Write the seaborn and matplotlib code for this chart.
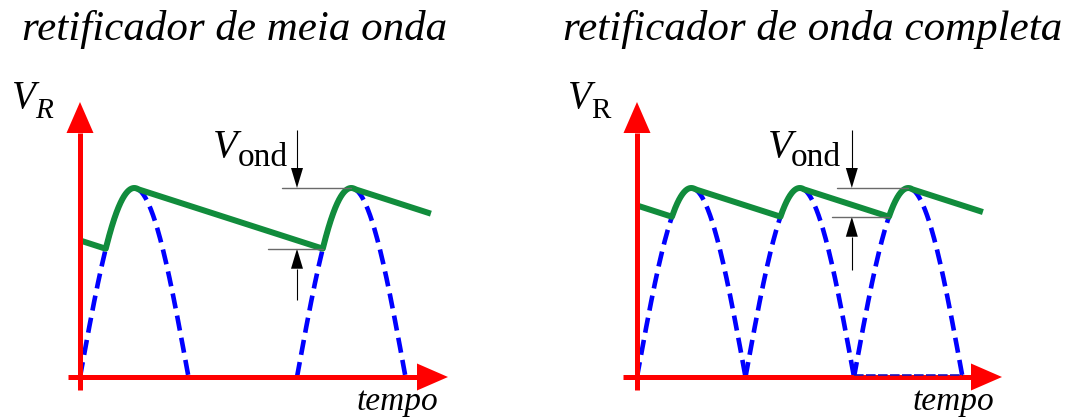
import numpy as np
import pandas as pd
import matplotlib
matplotlib.use("Agg")
import matplotlib.pyplot as plt
from matplotlib.transforms import offset_copy
import seaborn as sns

sns.set_theme(style="white")
plt.rcParams["font.family"] = ["Liberation Serif", "DejaVu Serif"]

# ---- content -------------------------------------------------------------
TITLES = ["retificador de meia onda", "retificador de onda completa"]
Y_LABEL = "V"
Y_SUBSCRIPTS = ["R", "R"]
Y_SUB_ITALIC = [True, False]
X_LABEL = "tempo"
RIPPLE_LABEL = "V"
RIPPLE_SUB = "ond"

# ---- signal description (time in input periods, voltage in peaks) ---------
AMPLITUDE = 1.0
ARCH_WIDTH = 0.5                       # each conducting half cycle
HALF_WAVE_STARTS = [0.0, 1.0]          # half-wave: one arch per period
FULL_WAVE_STARTS = [0.0, 0.5, 1.0]     # full-wave: one arch per half period
DECAY_RATE = 0.37                      # capacitor droop per period
TRACE_END = [1.617, 1.594]             # where the filtered trace stops
ZERO_STRETCH = [None, (1.0, 1.5)]      # dashed zero level shown on the axis
RIPPLE_MARK_T = [1.0, 0.99]            # time of the ripple dimension arrows

# ---- colours -------------------------------------------------------------
RED = "#ff0000"
BLUE = "#0000ff"
GREEN = "#118c3c"

W, H = 1068, 417
fig = plt.figure(figsize=(W / 100, H / 100), dpi=100)

PX_T, PX_V = 217.0, 189.0              # pixels per period / per peak
AXIS_Y = 377                           # pixel row of the time axis
PANELS = [dict(x0=0, ox=80, xa=68, xtip=448),
          dict(x0=534, ox=637, xa=623, xtip=1002)]
PANEL_W, PANEL_TOP = 534, 60


def source(t, starts):
    v = np.zeros_like(t)
    for s in starts:
        m = (t >= s) & (t <= s + ARCH_WIDTH)
        v[m] = AMPLITUDE * np.sin(np.pi * (t[m] - s) / ARCH_WIDTH)
    return v


def filtered(t, starts):
    peaks = [s + ARCH_WIDTH / 2 for s in starts]
    spacing = peaks[1] - peaks[0]
    all_peaks = np.array([peaks[0] - spacing] + peaks)
    idx = np.searchsorted(all_peaks, t, side="right") - 1
    hold = AMPLITUDE - DECAY_RATE * (t - all_peaks[idx])
    return np.maximum(source(t, starts), hold), peaks


def arrow(ax, start, tip, color, lw_px, head_len, head_w, z):
    p0 = ax.transData.transform(start)
    p1 = ax.transData.transform(tip)
    d = (p1 - p0) / np.linalg.norm(p1 - p0)
    n = np.array([-d[1], d[0]])
    base = p1 - d * head_len
    tri = np.array([p1, base + n * head_w / 2, base - n * head_w / 2])
    inv = ax.transData.inverted()
    tri_d = inv.transform(tri)
    base_d = inv.transform(base)
    ax.plot([start[0], base_d[0]], [start[1], base_d[1]], color=color,
            lw=lw_px * 0.72, solid_capstyle="butt", zorder=z)
    ax.fill(tri_d[:, 0], tri_d[:, 1], color=color, lw=0, zorder=z)


def ftext(xp, yp, s, size, italic, ha="left"):
    fig.text(xp / W, 1 - yp / H, s, fontsize=size,
             fontstyle="italic" if italic else "normal",
             ha=ha, va="baseline", color="black")


for k, (panel, starts) in enumerate(zip(PANELS, [HALF_WAVE_STARTS, FULL_WAVE_STARTS])):
    ax = fig.add_axes([panel["x0"] / W, 0, PANEL_W / W, (H - PANEL_TOP) / H])
    ox = panel["ox"] - panel["x0"]
    below = H - AXIS_Y
    ax.set_xlim(-ox / PX_T, (PANEL_W - ox) / PX_T)
    ax.set_ylim(-below / PX_V, (H - PANEL_TOP - below) / PX_V)
    ax.set_axis_off()

    # dashed source arches
    rows = []
    for i, s in enumerate(starts):
        t = np.linspace(s, s + ARCH_WIDTH, 200)
        rows.append(pd.DataFrame({"t": t, "v": source(t, [s]), "arch": i}))
    arches = pd.concat(rows, ignore_index=True)
    sns.lineplot(data=arches, x="t", y="v", units="arch", estimator=None,
                 sort=False, ax=ax, color=BLUE, lw=4.6 * 0.72,
                 linestyle=(0, (3.3, 1.6)), zorder=2)

    if ZERO_STRETCH[k] is not None:
        a, b = ZERO_STRETCH[k]
        zero = pd.DataFrame({"t": [a, b], "v": [0.0, 0.0]})
        sns.lineplot(data=zero, x="t", y="v", sort=False, estimator=None, ax=ax,
                     color="#1010c0", lw=1.6 * 0.72, linestyle=(0, (6, 1.5)),
                     zorder=6,
                     transform=offset_copy(ax.transData, fig=fig, y=2.5, units="dots"))

    # filtered output
    t = np.linspace(0.0, TRACE_END[k], 3000)
    v, peaks = filtered(t, starts)
    sns.lineplot(x=t, y=v, sort=False, estimator=None, ax=ax, color=GREEN,
                 lw=6 * 0.72, solid_capstyle="butt", zorder=3)

    # axes arrows
    arrow(ax, (0, -13 / PX_V), (0, 275 / PX_V), RED, 5, 31, 27, 5)
    x_start = (panel["xa"] - panel["ox"]) / PX_T
    x_tip = (panel["xtip"] - panel["ox"]) / PX_T
    arrow(ax, (x_start, 0), (x_tip, 0), RED, 5, 31, 27, 5)

    # ripple dimension
    p_last = peaks[-1]
    m = (t > peaks[-2]) & (t < p_last)
    iv = np.argmin(v[m])
    t_val, v_val = t[m][iv], v[m][iv]
    tm = RIPPLE_MARK_T[k]
    arrow(ax, (tm, 1.307), (tm, AMPLITUDE), "black", 1.1, 20, 12, 4)
    arrow(ax, (tm, [0.407, 0.566][k]), (tm, v_val), "black", 1.1, 20, 12, 4)
    ax.plot([tm - 0.07, p_last], [AMPLITUDE, AMPLITUDE],
            color="#6a6a6a", lw=1.4 * 0.72, zorder=4)
    ax.plot([tm - [0.134, 0.09][k], t_val], [v_val, v_val],
            color="#6a6a6a", lw=1.4 * 0.72, zorder=4)

# titles and labels
ftext(234.5, 40, TITLES[0], 31, True, ha="center")
ftext(812.5, 40, TITLES[1], 31, True, ha="center")
for xv, xr, sub, it in zip([12, 568], [35, 591], Y_SUBSCRIPTS, Y_SUB_ITALIC):
    ftext(xv, 108, Y_LABEL, 28, True)
    ftext(xr, 118, sub, 21, it)
for xt in [357, 913]:
    ftext(xt, 410, X_LABEL, 24, True)
for xv, xo in [(213, 238), (768, 791)]:
    ftext(xv, 157, RIPPLE_LABEL, 29, True)
    ftext(xo, 166, RIPPLE_SUB, 24, False)

fig.savefig("out.png", dpi=100, facecolor="white")
